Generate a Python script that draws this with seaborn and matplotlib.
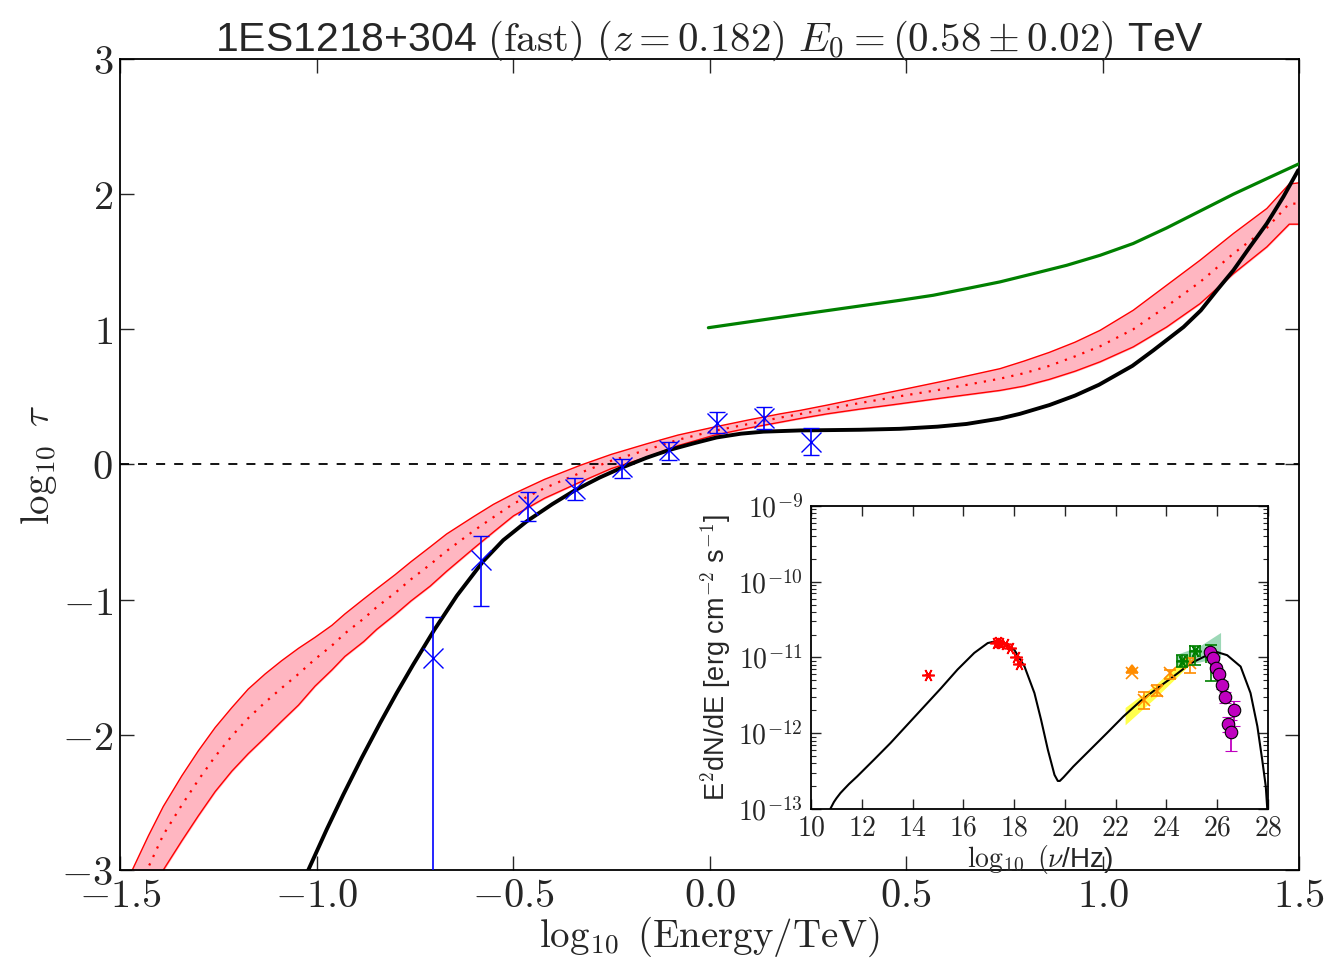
import numpy as np
import pandas as pd
import matplotlib
matplotlib.use('Agg')
import matplotlib.pyplot as plt
from matplotlib.ticker import FuncFormatter, MultipleLocator
import seaborn as sns

sns.set_style('ticks')
plt.rcParams['font.family'] = ['Liberation Sans', 'DejaVu Sans']
plt.rcParams['mathtext.fontset'] = 'cm'
plt.rcParams['xtick.direction'] = 'in'
plt.rcParams['ytick.direction'] = 'in'

# ---- main panel: optical depth ----
# blue points (log10 tau) with asymmetric errors
pts_x = [-0.703, -0.581, -0.462, -0.342, -0.223, -0.103, 0.018, 0.138, 0.258]
pts_y = [-1.43, -0.71, -0.30, -0.18, -0.02, 0.11, 0.31, 0.345, 0.17]
pts_top = [-1.13, -0.53, -0.205, -0.10, 0.04, 0.17, 0.387, 0.425, 0.27]
pts_bot = [-3.2, -1.05, -0.42, -0.26, -0.10, 0.034, 0.232, 0.264, 0.072]

# black model curve
model_x = [-1.035, -1.021, -0.974, -0.932, -0.885, -0.838, -0.796, -0.754, -0.701, -0.643,
           -0.576, -0.525, -0.465, -0.40, -0.342, -0.28, -0.223, -0.16, -0.103, -0.04,
           0.018, 0.08, 0.137, 0.23, 0.383, 0.484, 0.58, 0.654, 0.739, 0.79, 0.865, 0.93,
           0.991, 1.076, 1.129, 1.206, 1.25, 1.291, 1.333, 1.375, 1.418, 1.46, 1.498]
model_y = [-3.1, -3.0, -2.699, -2.443, -2.17, -1.911, -1.69, -1.48, -1.226, -0.971,
           -0.716, -0.56, -0.42, -0.293, -0.19, -0.097, -0.023, 0.05, 0.107, 0.157,
           0.20, 0.228, 0.243, 0.252, 0.257, 0.264, 0.28, 0.30, 0.34, 0.375, 0.44, 0.51,
           0.59, 0.73, 0.844, 1.017, 1.14, 1.289, 1.437, 1.61, 1.783, 1.98, 2.178]

# green curve
green_x = [-0.003, 0.23, 0.485, 0.569, 0.654, 0.739, 0.824, 0.909, 0.994, 1.078, 1.163,
           1.248, 1.333, 1.418, 1.50]
green_y = [1.012, 1.11, 1.215, 1.252, 1.301, 1.351, 1.412, 1.474, 1.548, 1.635, 1.75,
           1.875, 2.0, 2.115, 2.225]

# red band (edges and dotted centre)
band_x = [-1.52, -1.470, -1.428, -1.390, -1.343, -1.301, -1.258, -1.216, -1.174, -1.131,
          -1.089, -1.046, -1.004, -0.961, -0.928, -0.88, -0.847, -0.80, -0.76, -0.711,
          -0.669, -0.60, -0.55, -0.499, -0.42, -0.33, -0.25, -0.16, -0.08, 0.01,
          0.10, 0.18, 0.23, 0.30, 0.383, 0.484, 0.60, 0.739, 0.80, 0.865,
          0.93, 0.994, 1.078, 1.163, 1.248, 1.333, 1.418, 1.475, 1.50]
band_up = [-3.28, -3.007, -2.748, -2.53, -2.304, -2.119, -1.946, -1.80, -1.662, -1.55,
           -1.452, -1.36, -1.279, -1.19, -1.106, -0.995, -0.92, -0.815, -0.72, -0.61,
           -0.514, -0.385, -0.295, -0.217, -0.11, -0.007, 0.075, 0.153, 0.218, 0.276,
           0.33, 0.375, 0.40, 0.44, 0.49, 0.55, 0.62, 0.709, 0.765, 0.83,
           0.905, 0.993, 1.141, 1.326, 1.511, 1.709, 1.894, 2.075, 2.084]
band_lo = [-4.0, -3.55, -3.26, -3.0, -2.785, -2.60, -2.42, -2.27, -2.14, -2.02,
           -1.90, -1.78, -1.64, -1.52, -1.42, -1.31, -1.22, -1.11, -1.01, -0.90,
           -0.79, -0.62, -0.50, -0.38, -0.25, -0.131, -0.03, 0.054, 0.14, 0.215,
           0.27, 0.313, 0.34, 0.375, 0.41, 0.449, 0.495, 0.548, 0.58, 0.63,
           0.69, 0.76, 0.87, 1.017, 1.19, 1.412, 1.61, 1.778, 1.778]
band_mid = [-3.60, -3.25, -2.98, -2.74, -2.52, -2.335, -2.16, -2.01, -1.877, -1.76,
            -1.654, -1.55, -1.44, -1.34, -1.25, -1.14, -1.055, -0.95, -0.85, -0.74,
            -0.64, -0.49, -0.39, -0.29, -0.175, -0.063, 0.028, 0.108, 0.183, 0.248,
            0.30, 0.347, 0.373, 0.41, 0.455, 0.505, 0.56, 0.635, 0.675, 0.73,
            0.80, 0.875, 1.0, 1.17, 1.35, 1.56, 1.75, 1.93, 1.93]

# ---- inset: SED (log10 of E^2 dN/dE) ----
sed_x = [10.76, 10.9, 11.0, 11.16, 11.3, 11.5, 11.82, 12.48, 13.13, 13.79, 14.45, 15.11,
         15.77, 16.43, 16.96, 17.22, 17.62, 18.01, 18.41, 18.80, 19.06, 19.33, 19.59,
         19.72, 19.80, 19.95, 20.33, 20.99, 21.65, 22.30, 22.96, 23.62, 24.28, 24.94,
         25.6, 26.0, 26.39, 26.92, 27.31, 27.58, 27.77, 27.91, 27.97]
sed_logy = [-13.0, -12.91, -12.86, -12.79, -12.74, -12.67, -12.57, -12.35, -12.13, -11.89,
            -11.65, -11.41, -11.16, -10.94, -10.81, -10.79, -10.81, -10.90, -11.12,
            -11.47, -11.82, -12.22, -12.55, -12.63, -12.63, -12.58, -12.44, -12.22,
            -12.0, -11.78, -11.58, -11.41, -11.25, -11.08, -10.97, -10.93, -10.97,
            -11.12, -11.47, -11.91, -12.35, -12.70, -13.0]

xray_x = [14.61, 17.29, 17.37, 17.46, 17.65, 17.84, 18.08, 18.21]
xray_logy = [-11.23, -10.81, -10.80, -10.81, -10.82, -10.88, -11.0, -11.08]

lat_x = [23.12, 23.62, 24.15, 24.91]
lat_logy = [-11.56, -11.44, -11.21, -11.07]
lat_up = [-11.46, -11.37, -11.17, -11.01]
lat_lo = [-11.68, -11.51, -11.29, -11.21]
ul_x = [22.64]
ul_logy = [-11.21]

yel_x = [22.37, 23.6, 24.9]
yel_up = [-11.66, -11.35, -10.95]
yel_lo = [-11.89, -11.52, -11.10]

grn_band_x = [24.39, 25.3, 26.13]
grn_band_up = [-10.96, -10.85, -10.67]
grn_band_lo = [-11.12, -11.06, -11.0]
grn_x = [24.61, 25.14, 25.76]
grn_logy = [-11.05, -10.92, -11.0]
grn_up = [-10.97, -10.85, -10.84]
grn_lo = [-11.12, -11.10, -11.31]

vts_x = [25.71, 25.84, 25.96, 26.07, 26.19, 26.30, 26.65, 26.43, 26.55]
vts_logy = [-10.93, -11.01, -11.14, -11.22, -11.36, -11.52, -11.70, -11.88, -11.99]
vts_up = [-10.90, -10.98, -11.10, -11.18, -11.31, -11.45, -11.58, -11.78, -11.82]
vts_lo = [-10.96, -11.04, -11.18, -11.26, -11.41, -11.60, -11.90, -11.98, -12.23]

fig = plt.figure(figsize=(13.31, 9.61), dpi=100)
ax = fig.add_axes([0.0902, 0.0947, 0.8858, 0.8439])

ax.fill_between(band_x, band_lo, band_up, color='lightpink', zorder=1)
ax.plot(band_x, band_up, color='red', lw=1, zorder=2)
ax.plot(band_x, band_lo, color='red', lw=1, zorder=2)
sns.lineplot(x=band_x, y=band_mid, ax=ax, color='red', lw=1.6, linestyle=(0, (1, 3.2)),
             zorder=3)
ax.axhline(0, color='black', lw=1.3, ls=(0, (5, 5)), zorder=2)
sns.lineplot(x=model_x, y=model_y, ax=ax, color='black', lw=2.8, zorder=4)
sns.lineplot(x=green_x, y=green_y, ax=ax, color='green', lw=2.3, zorder=4)

y = np.array(pts_y)
yerr = [y - np.array(pts_bot), np.array(pts_top) - y]
ax.errorbar(pts_x, pts_y, yerr=yerr, fmt='x', color='blue', ms=15, mew=1.0,
            elinewidth=1.2, capsize=6, capthick=1.2, zorder=5)

ax.set_xlim(-1.5, 1.5)
ax.set_ylim(-3, 3)
ax.xaxis.set_major_locator(MultipleLocator(0.5))
ax.yaxis.set_major_locator(MultipleLocator(1))
ax.xaxis.set_major_formatter(FuncFormatter(lambda v, p: r'$%.1f$' % v))
ax.yaxis.set_major_formatter(FuncFormatter(lambda v, p: r'$%d$' % round(v)))
ax.tick_params(axis='both', which='major', labelsize=29, length=10, width=1,
               top=True, right=True, pad=5)
for s in ax.spines.values():
    s.set_linewidth(1.3)
    s.set_color('black')
ax.set_xlabel(r'$\log_{10}\ (\mathrm{Energy/TeV})$', fontsize=28, labelpad=0)
ax.set_ylabel(r'$\log_{10}\ \tau$', fontsize=28, labelpad=2)
ax.set_title(r'1ES1218+304 $(\mathrm{fast})\ (z=0.182)\ E_0=(0.58\pm0.02)$ TeV',
             fontsize=29.5, pad=6)

# inset
axi = fig.add_axes([0.6093, 0.1582, 0.3434, 0.3153])
pw = lambda a: 10 ** np.array(a)
star = (6, 2, 90)
axi.fill_between(yel_x, pw(yel_lo), pw(yel_up), color='yellow', alpha=0.7, lw=0, zorder=1)
axi.fill_between(grn_band_x, pw(grn_band_lo), pw(grn_band_up), color='mediumseagreen',
                 alpha=0.5, lw=0, zorder=1)
sns.lineplot(x=sed_x, y=pw(sed_logy), ax=axi, color='black', lw=1.5, zorder=3)
axi.errorbar(xray_x, pw(xray_logy), xerr=0.1, fmt='', marker=star, ls='none',
             color='red', ms=9, mew=1.2, elinewidth=1.2, capsize=0, zorder=4)
ly = pw(lat_logy)
axi.errorbar(lat_x, ly, yerr=[ly - pw(lat_lo), pw(lat_up) - ly], fmt='x',
             color='darkorange', ms=8, mew=1.2, elinewidth=1.2, capsize=4, zorder=4)
uly = pw(ul_logy)
axi.errorbar(ul_x, uly, yerr=[uly - pw(np.array(ul_logy) - 0.2), uly * 0],
             lolims=True, fmt='x', color='darkorange', ms=8, mew=1.2, elinewidth=1.5,
             capsize=4, zorder=4)
gy = pw(grn_logy)
axi.errorbar(grn_x, gy, yerr=[gy - pw(grn_lo), pw(grn_up) - gy], xerr=0.2, fmt='',
             marker=star, ls='none', color='green', ms=9, mew=1.2, elinewidth=1.2,
             capsize=4, zorder=5)
vy = pw(vts_logy)
axi.errorbar(vts_x, vy, yerr=[vy - pw(vts_lo), pw(vts_up) - vy], fmt='o', color='m',
             mfc='m', mec='black', ms=9, mew=0.8, elinewidth=1.3, capsize=4, zorder=6)

axi.set_yscale('log')
axi.set_xlim(10, 28)
axi.set_ylim(1e-13, 1e-9)
axi.xaxis.set_major_locator(MultipleLocator(2))
axi.xaxis.set_major_formatter(FuncFormatter(lambda v, p: r'$%d$' % round(v)))
axi.yaxis.set_major_formatter(FuncFormatter(lambda v, p: r'$10^{%d}$' % round(np.log10(v))))
axi.tick_params(axis='both', which='major', labelsize=20, length=7, width=1,
                top=True, right=True)
axi.tick_params(axis='x', which='major', pad=5)
axi.tick_params(axis='y', which='major', pad=6)
axi.tick_params(axis='y', which='minor', length=3.5, width=0.8, left=True, right=True)
for s in axi.spines.values():
    s.set_linewidth(1.3)
    s.set_color('black')
axi.set_xlabel(r'$\log_{10}\ (\nu$/Hz)', fontsize=20, labelpad=1)
axi.set_ylabel(r'E$^2$dN/dE [erg cm$^{-2}$ s$^{-1}$]', fontsize=19.5, labelpad=3)

fig.savefig('out.png', dpi=100)
